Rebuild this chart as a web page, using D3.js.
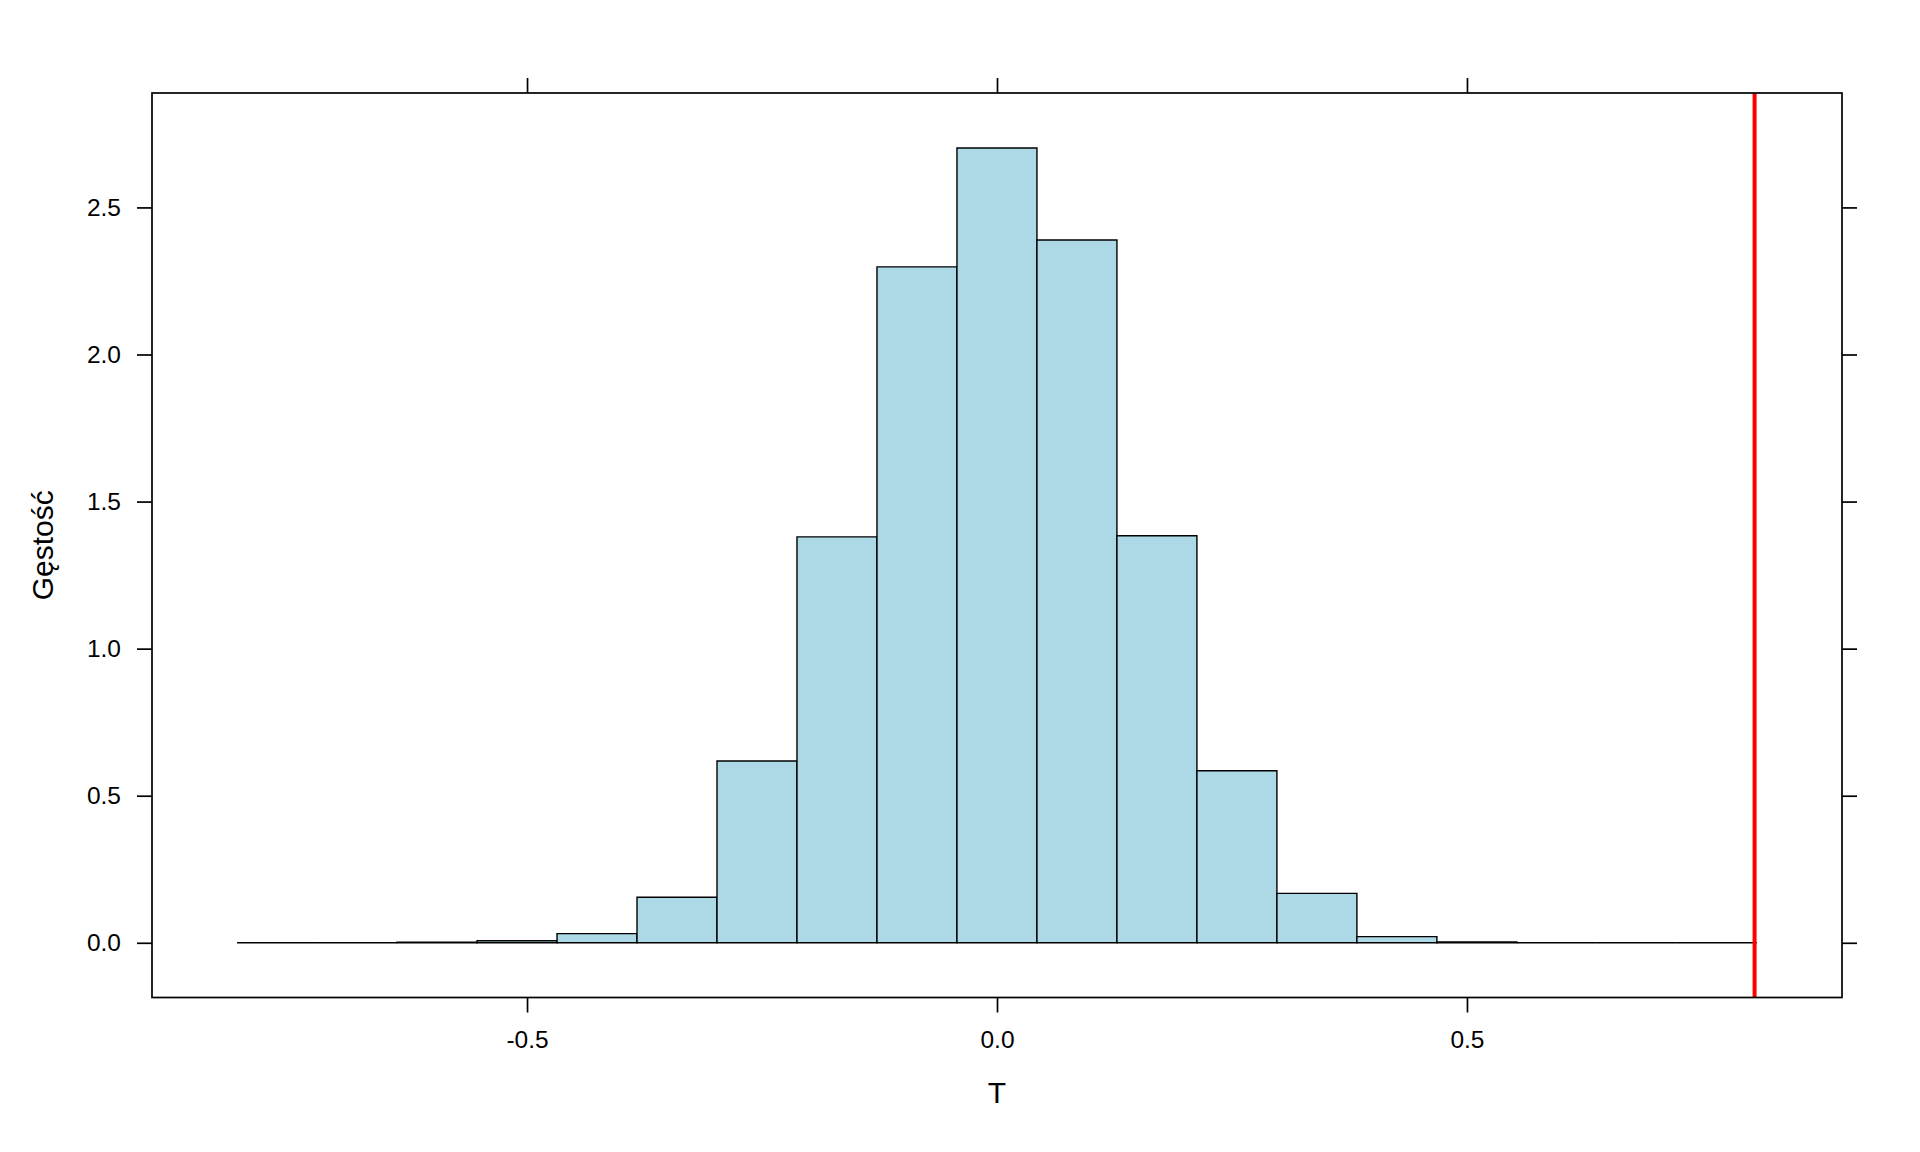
<!DOCTYPE html>
<html>
<head>
<meta charset="utf-8">
<script src="https://cdn.jsdelivr.net/npm/d3@7"></script>
<style>
  html, body { margin: 0; padding: 0; background: #fff; }
  svg { display: block; font-family: "Liberation Sans", Arial, sans-serif; }
</style>
</head>
<body>
<div class="main__area"></div>
<script>
// histogram breaks (19 bins) and density per bin
const breaks = [-0.8085, -0.7234, -0.6383, -0.5532, -0.4681, -0.3830, -0.2979, -0.2128, -0.1277, -0.0426,
                0.0425, 0.1276, 0.2127, 0.2978, 0.3829, 0.4680, 0.5531, 0.6382, 0.7233, 0.8084];
const densities = [0, 0, 0.002, 0.007, 0.031, 0.155, 0.618, 1.380, 2.298, 2.702,
                   2.389, 1.384, 0.585, 0.168, 0.021, 0.003, 0, 0, 0];
const observedT = 0.806;

const xTicks = [-0.5, 0.0, 0.5];
const yTicks = [0.0, 0.5, 1.0, 1.5, 2.0, 2.5];
const xTitle = "T";
const yTitle = "Gęstość";

const width = 1920;
const height = 1152;
const box = { left: 152, right: 1842, top: 93, bottom: 997.5 };
const tickLen = 15;

const svg = d3.select(".main__area").append("svg")
    .attr("width", width)
    .attr("height", height);

const x = d3.scaleLinear().domain([-0.899, 0.899]).range([box.left, box.right]);
const y = d3.scaleLinear().domain([-0.186, 2.889]).range([box.bottom, box.top]);

const bins = densities.map((d, i) => ({ x0: breaks[i], x1: breaks[i + 1], d }));

// bars as closed paths so that empty bins still show their outline
svg.append("g").selectAll("path")
    .data(bins)
    .join("path")
    .attr("d", b => {
        const p = d3.path();
        p.moveTo(x(b.x0), y(0));
        p.lineTo(x(b.x0), y(b.d));
        p.lineTo(x(b.x1), y(b.d));
        p.lineTo(x(b.x1), y(0));
        p.closePath();
        return p.toString();
    })
    .attr("fill", "#ADD8E6")
    .attr("stroke", "#000")
    .attr("stroke-width", 1.4)
    .attr("stroke-linejoin", "miter");

// observed value
svg.append("line")
    .attr("x1", x(observedT)).attr("x2", x(observedT))
    .attr("y1", box.top).attr("y2", box.bottom)
    .attr("stroke", "#FF0000")
    .attr("stroke-width", 4);

// panel box
svg.append("rect")
    .attr("x", box.left).attr("y", box.top)
    .attr("width", box.right - box.left).attr("height", box.bottom - box.top)
    .attr("fill", "none")
    .attr("stroke", "#000")
    .attr("stroke-width", 1.7);

// axes (lattice style: labels left/bottom, bare ticks right/top)
const axisStyle = g => {
    g.select(".domain").remove();
    g.selectAll(".tick line").attr("stroke", "#000").attr("stroke-width", 1.7);
    g.selectAll(".tick text").attr("fill", "#000")
        .style("font-size", "24.5px")
        .style("font-family", "'Liberation Sans', Arial, sans-serif");
};
// plain hyphen for negatives, as in the original
const fmt = v => d3.format(".1f")(v).replace("\u2212", "-");

svg.append("g")
    .attr("transform", `translate(0,${box.bottom})`)
    .call(d3.axisBottom(x).tickValues(xTicks).tickFormat(fmt).tickSize(tickLen).tickPadding(18))
    .call(axisStyle);

svg.append("g")
    .attr("transform", `translate(0,${box.top})`)
    .call(d3.axisTop(x).tickValues(xTicks).tickFormat("").tickSize(tickLen))
    .call(axisStyle);

svg.append("g")
    .attr("transform", `translate(${box.left},0)`)
    .call(d3.axisLeft(y).tickValues(yTicks).tickFormat(fmt).tickSize(tickLen).tickPadding(16))
    .call(axisStyle);

svg.append("g")
    .attr("transform", `translate(${box.right},0)`)
    .call(d3.axisRight(y).tickValues(yTicks).tickFormat("").tickSize(tickLen))
    .call(axisStyle);

// axis titles
svg.append("text")
    .attr("x", (box.left + box.right) / 2)
    .attr("y", 1103)
    .attr("text-anchor", "middle")
    .style("font-size", "30px")
    .attr("fill", "#000")
    .text(xTitle);

svg.append("text")
    .attr("transform", `translate(53,${(box.top + box.bottom) / 2}) rotate(-90)`)
    .attr("text-anchor", "middle")
    .style("font-size", "30px")
    .attr("fill", "#000")
    .text(yTitle);
</script>
</body>
</html>
